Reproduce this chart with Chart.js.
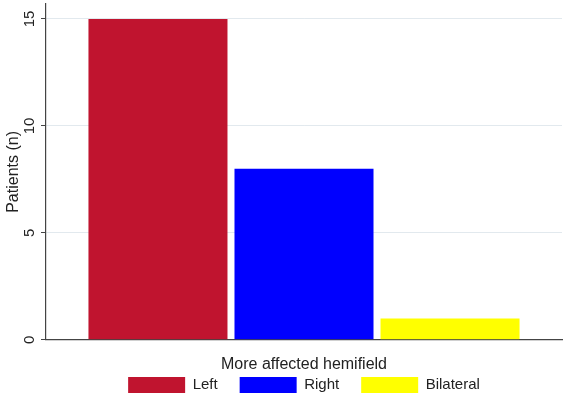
<!DOCTYPE html>
<html>
<head>
<meta charset="utf-8">
<script src="https://cdn.jsdelivr.net/npm/chart.js@4.4.1/dist/chart.umd.min.js"></script>
<style>
  html, body { margin: 0; padding: 0; background: #fff; overflow: hidden; }
  #wrap { width: 567px; height: 398px; position: relative; }
</style>
</head>
<body>
<div id="wrap"><canvas id="barChart"></canvas></div>
<script>
const categories = ['Left', 'Right', 'Bilateral'];
const patients = [15, 8, 1];
const yTicks = [0, 5, 10, 15];
const barColors = ['#c0142f', '#0000ff', '#ffff00'];

const FONT = '"Liberation Sans", Arial, Helvetica, sans-serif';

// one category, three grouped bars (Stata "over(..., asyvars)" look)
const datasets = categories.map((name, i) => ({
    label: name,
    data: [patients[i]],
    backgroundColor: barColors[i],
    borderWidth: 0,
    barPercentage: 0.952,
    categoryPercentage: 0.849
}));

const ctx = document.getElementById('barChart');
new Chart(ctx, {
    type: 'bar',
    data: { labels: [''], datasets: datasets },
    options: {
        responsive: true,
        maintainAspectRatio: false,
        animation: false,
        layout: { padding: { top: 4, right: 5, bottom: -5, left: 0 } },
        scales: {
            x: {
                grid: { display: false, drawTicks: false },
                border: { display: true, color: '#444', width: 1.2 },
                ticks: { display: false },
                title: {
                    display: true,
                    text: 'More affected hemifield',
                    color: '#222',
                    font: { family: FONT, size: 16 },
                    padding: { top: 15, bottom: -19 }
                }
            },
            y: {
                min: 0,
                max: 15.7,
                afterBuildTicks: (scale) => {
                    scale.ticks = yTicks.map(v => ({ value: v }));
                },
                afterFit: (scale) => {
                    scale.width = 46;
                    // rotated labels would otherwise push the plot top down
                    scale.paddingTop = 0;
                    scale.paddingBottom = 0;
                },
                grid: {
                    color: (c) => (c.tick && c.tick.value === 0) ? 'rgba(0,0,0,0)' : '#e2e9ee',
                    tickColor: '#444',
                    tickLength: 5,
                    lineWidth: 1
                },
                border: { display: true, color: '#444', width: 1.2 },
                ticks: {
                    color: '#222',
                    font: { family: FONT, size: 15 },
                    minRotation: 90,
                    maxRotation: 90,
                    crossAlign: 'center',
                    padding: 3
                },
                title: {
                    display: true,
                    text: 'Patients (n)',
                    color: '#222',
                    font: { family: FONT, size: 16 },
                    padding: { top: 4, bottom: 0 }
                }
            }
        },
        plugins: {
            tooltip: { enabled: false },
            legend: {
                position: 'bottom',
                fullSize: false,
                labels: {
                    boxWidth: 57,
                    boxHeight: 16,
                    padding: 22,
                    color: '#222',
                    font: { family: FONT, size: 15 }
                }
            }
        }
    }
});
</script>
</body>
</html>
